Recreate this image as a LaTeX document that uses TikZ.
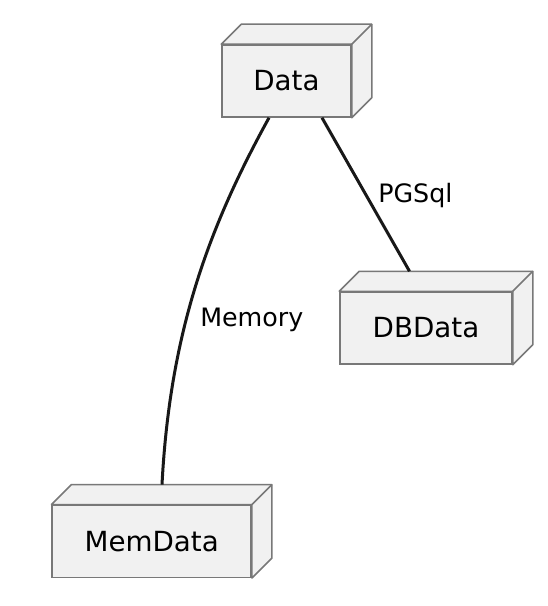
\documentclass[tikz,border=0pt]{standalone}
\usepackage{fontspec}
\setmainfont{DejaVu Sans}
\usetikzlibrary{calc}

\newlength{\du}
\setlength{\du}{0.75pt}

\definecolor{nodefillcolor}{rgb}{0.945000, 0.945000, 0.945000}
\definecolor{nodelinecolor}{rgb}{0.470000, 0.470000, 0.470000}
\definecolor{edgecolor}{rgb}{0.094000, 0.094000, 0.094000}

\tikzset{
  boxnode/.style={draw=nodelinecolor, fill=nodefillcolor, line width=1.5\du,
    minimum height=72\du, inner sep=0pt, font=\fontsize{20.8}{24}\selectfont},
  boxface/.style={draw=nodelinecolor, fill=nodefillcolor, line width=1.5\du, line join=round},
  edgeline/.style={draw=edgecolor, line width=3\du},
  edgelabel/.style={inner sep=0pt, anchor=base west, font=\fontsize{19}{22}\selectfont},
}

\begin{document}
\begin{tikzpicture}
\pgftransformxscale{1.000000}
\pgftransformyscale{-1.000000}
\useasboundingbox (0\du,0\du) rectangle (548\du,606\du);
% nodes
\node[boxnode, minimum width=129\du] (data) at (286.5\du,81\du) {Data};
\node[boxnode, minimum width=172\du] (dbdata) at (426\du,328\du) {DBData};
\node[boxnode, minimum width=199\du] (memdata) at (151.7\du,541.3\du) {MemData};
% depth of the boxes
\foreach \n in {data,dbdata,memdata}{
\draw[boxface] (\n.north west) -- ++(20\du,-20\du)
  -- ($(\n.north east)+(20\du,-20\du)$) -- ($(\n.south east)+(20\du,-20\du)$)
  -- (\n.south east) -- (\n.north east) -- cycle;
\draw[boxface] (\n.north east) -- ++(20\du,-20\du);
}
% links
\draw[edgeline] ($(data.south)+(35.5\du,0\du)$)--($(dbdata.north)+(-16.5\du,-20\du)$);
\draw[edgeline] ($(data.south)+(-17.5\du,0\du)$) .. controls (210\du,225\du) and (170\du,330\du) .. ($(memdata.north)+(10.3\du,-20\du)$);
% labels
\node[edgelabel] (pgsql) at (378\du,202.7\du) {PGSql};
\node[edgelabel] (memory) at (200\du,326\du) {Memory};
\end{tikzpicture}
\end{document}
